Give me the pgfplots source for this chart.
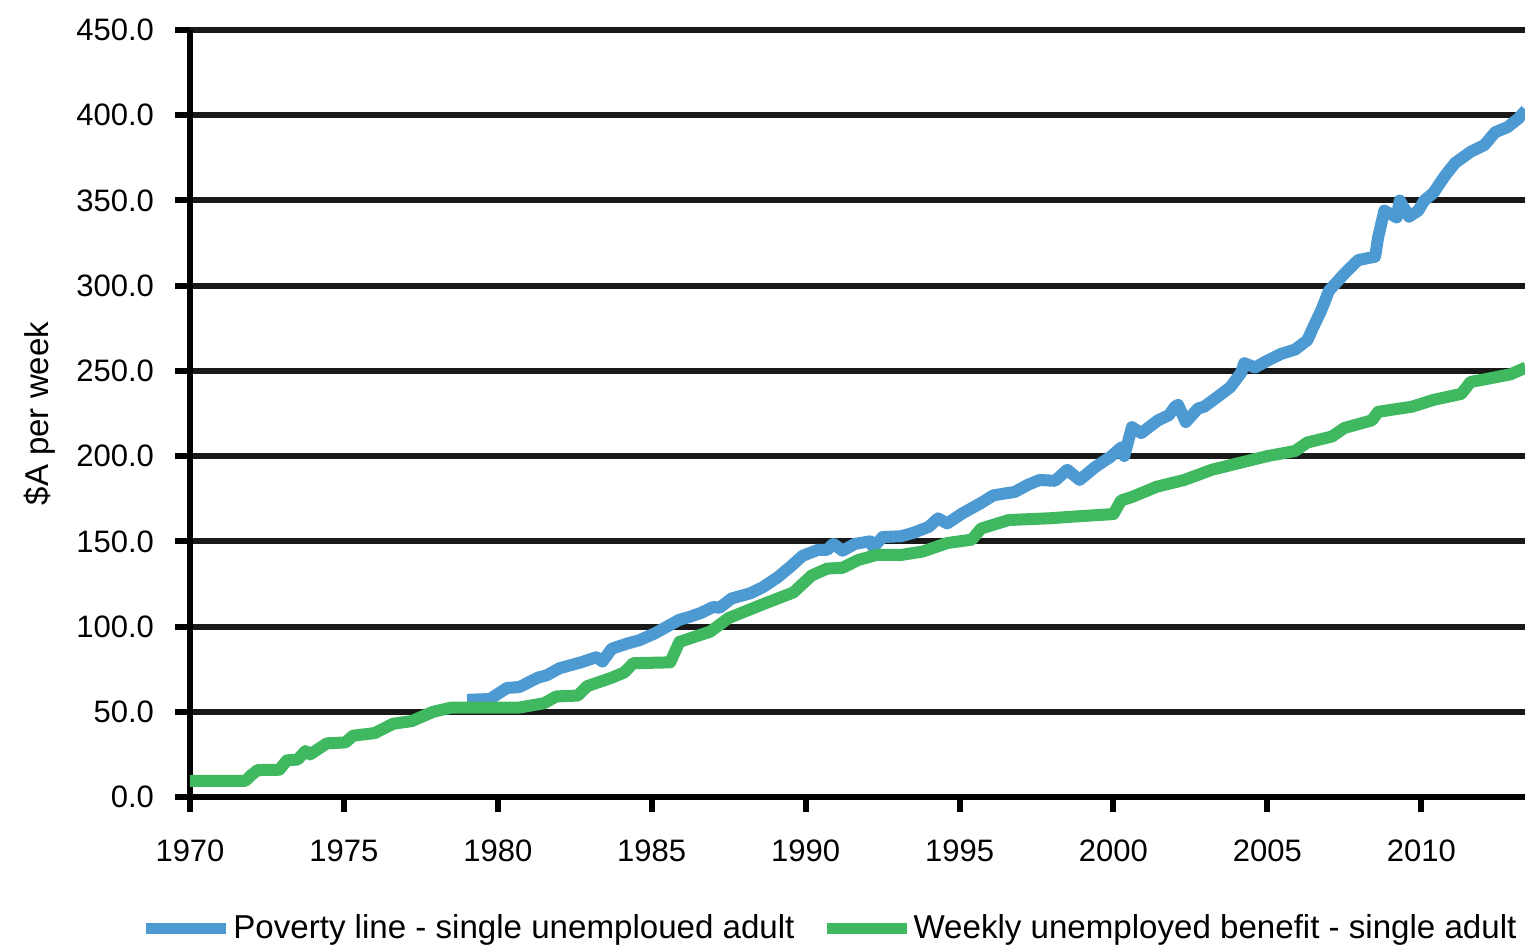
\documentclass[border=0pt]{standalone}
\usepackage{fontspec}
\setmainfont{Liberation Sans}
\usepackage{pgfplots}
\pgfplotsset{compat=1.18}
\definecolor{povblue}{RGB}{77,153,210}
\definecolor{bengreen}{RGB}{63,184,96}

\pgfplotstableread{
year value
1979.0 57
1979.75 57.5
1980.3 64
1980.7 64.5
1981.3 70
1981.6 71.5
1982.0 75.5
1982.7 79
1983.2 82
1983.4 79.5
1983.7 87
1984.2 90
1984.6 92
1985.1 96
1985.5 100
1985.9 104
1986.2 105.5
1986.6 108
1987.0 111.5
1987.2 111
1987.6 116.5
1988.2 119.5
1988.6 123
1989.1 129
1989.5 135
1989.9 141.5
1990.4 145
1990.7 145
1990.9 148.5
1991.2 144.5
1991.6 148.5
1992.1 150
1992.2 146.5
1992.5 152.5
1993.1 153
1993.5 155
1994.0 158.5
1994.3 163.5
1994.6 160.5
1995.1 166.5
1995.7 172.5
1996.1 177
1996.8 179
1997.2 183
1997.6 186
1998.1 185.5
1998.5 192
1998.9 186
1999.4 193.5
1999.9 199.5
2000.25 205
2000.35 200
2000.6 217
2000.9 213.5
2001.45 221
2001.8 224
2002.0 229
2002.1 230
2002.35 220
2002.75 228
2002.95 229
2003.4 235
2003.8 240.5
2004.15 249
2004.25 254.5
2004.6 252
2005.0 256
2005.45 260
2005.9 262.5
2006.3 268
2006.5 276
2006.75 285.5
2007.0 297
2007.5 307
2007.95 315
2008.5 317
2008.6 328.5
2008.8 344
2009.2 340
2009.3 350
2009.6 340.5
2009.9 344
2010.1 350
2010.4 354.5
2010.75 364
2011.1 372
2011.6 378.5
2012.05 382.5
2012.4 390
2012.8 393
2013.15 398
2013.4 403
}\poverty

\pgfplotstableread{
year value
1970.0 9.5
1971.8 9.5
1972.0 13
1972.2 15.8
1972.9 16
1973.15 21.5
1973.5 22
1973.75 27
1973.9 25
1974.45 31.5
1975.05 32
1975.3 36
1976.0 37.5
1976.6 43
1977.2 44.5
1977.9 50
1978.5 52.5
1979.5 52.5
1980.7 52.5
1981.5 55
1981.9 59
1982.6 59.5
1982.9 65
1983.7 70
1984.1 73
1984.4 78.5
1985.6 79
1985.9 91
1986.9 97
1987.5 105
1988.6 113
1989.6 120
1990.2 130
1990.7 134
1991.2 134.5
1991.7 139
1992.3 142
1993.1 142
1993.8 144
1994.6 149
1995.4 151
1995.7 157.5
1996.6 162.5
1997.9 163.5
1998.7 164.5
2000.0 166
2000.25 174
2000.6 176
2001.4 182
2002.3 186
2003.2 192
2004.1 196
2005.0 200
2005.9 203
2006.3 208
2007.1 211.5
2007.5 216.5
2008.4 221
2008.6 226
2009.7 229
2010.4 233
2011.3 236.5
2011.6 243.5
2012.05 245
2012.9 248
2013.4 252
}\benefit

\begin{document}
\begin{tikzpicture}
\begin{axis}[
  scale only axis,
  width=667.5pt, height=383.5pt,
  xmin=1970, xmax=2013.37,
  ymin=0, ymax=450,
  xtick={1970,1975,...,2010},
  ytick={0,50,...,450},
  axis x line=bottom, axis y line=left,
  axis line style={-, line width=3pt, black},
  ymajorgrids,
  grid style={line width=3pt, black!90},
  tick align=outside,
  major tick length=7.5pt,
  tick style={line width=3pt, black},
  /pgf/number format/assume math mode=true,
  xticklabel style={/pgf/number format/1000 sep={}, yshift=-10.5pt,
    font=\fontsize{15.5}{18}\selectfont},
  yticklabel style={/pgf/number format/fixed, /pgf/number format/fixed zerofill,
    /pgf/number format/precision=1, xshift=-7pt,
    font=\fontsize{15.5}{18}\selectfont},
  ylabel={\$A per week},
  ylabel style={at={(axis description cs:-0.1124,0.5)}, anchor=center,
    font=\fontsize{16.5}{19}\selectfont},
  legend style={at={(-0.0416,-0.1708)}, anchor=west, draw=none, fill=none,
    legend columns=2, font=\fontsize{16.55}{20}\selectfont,
    /tikz/every even column/.append style={column sep=12.5pt},
    nodes={inner sep=0.75pt}},
  legend image code/.code={\draw[#1, line width=5.5pt] (0pt,0pt) -- (40pt,0pt);},
]
\addplot[povblue, line width=6pt, line join=round] table[x=year, y=value] {\poverty};
\addplot[bengreen, line width=6pt, line join=round] table[x=year, y=value] {\benefit};
\legend{Poverty line - single unemploued adult, Weekly unemployed benefit - single adult}
\end{axis}
\pgfresetboundingbox
\useasboundingbox (-95pt,-75pt) rectangle (667.5pt,398.5pt);
\end{tikzpicture}
\end{document}
